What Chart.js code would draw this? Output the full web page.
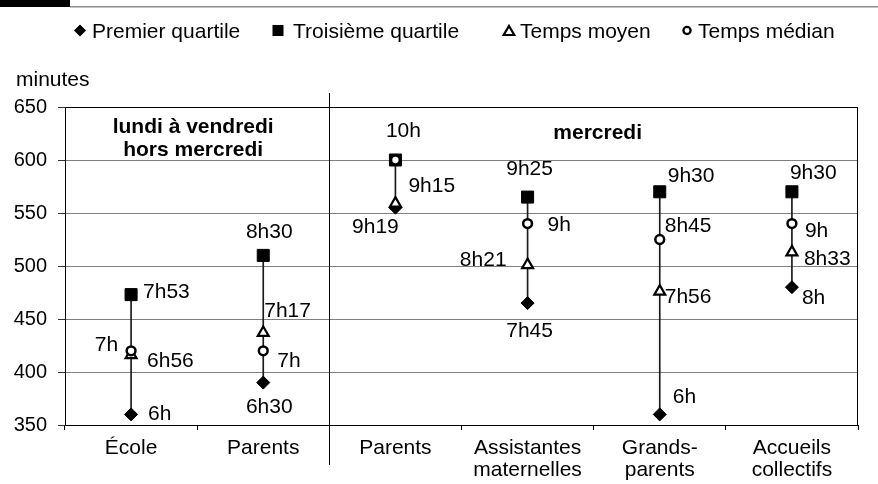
<!DOCTYPE html>
<html><head><meta charset="utf-8">
<script src="https://cdn.jsdelivr.net/npm/chart.js@4/dist/chart.umd.min.js"></script>
<style>html,body{margin:0;padding:0;background:#fff}#wrap{width:878px;height:484px;position:relative}</style>
</head><body><div id="wrap"><canvas id="c"></canvas></div>
<script>
// ---- data (minutes) ----
const categories = [['École'], ['Parents'], ['Parents'], ['Assistantes', 'maternelles'], ['Grands-', 'parents'], ['Accueils', 'collectifs']];
const premierQuartile   = [360, 390, 555, 465, 360, 480];
const troisiemeQuartile = [473, 510, 600, 565, 570, 570];
const tempsMoyen        = [416, 437, 559, 501, 476, 513];
const tempsMedian       = [420, 420, 600, 540, 525, 540];
const yTickValues = [350, 400, 450, 500, 550, 600, 650];
const seriesNames = ['Premier quartile', 'Troisième quartile', 'Temps moyen', 'Temps médian'];
const periodLabels = [['lundi à vendredi', 'hors mercredi'], ['mercredi']];
const yAxisTitle = 'minutes';

// ---- label placement (offsets from marker, pixels) ----
const labelLayout = {
  q1:     [[17, -2, 'left'], [6, 23, 'center'], [13, -23, 'left'], [2, 26, 'center'], [13, -19, 'left'], [10, 9, 'left']],
  q3:     [[12, -4, 'left'], [6, -25, 'center'], [8, -31, 'center'], [2, -30, 'center'], [8, -17, 'left'], [-2, -20, 'left']],
  mean:   [[16, 4.5, 'left'], [1, -23, 'left'], [-20, 22, 'center'], [-21, -6.5, 'right'], [5, 4, 'left'], [12, 5, 'left']],
  median: [[-13, -7, 'right'], [14, 9, 'left'], null, [20, 0, 'left'], [5, -15, 'left'], [13, 6, 'left']]
};

const FONT = '"Liberation Sans", Arial, sans-serif';
const fmt = m => { const h = Math.floor(m / 60), mm = m % 60; return h + 'h' + (mm ? String(mm).padStart(2, '0') : ''); };

const deco = {
  id: 'deco',
  beforeDraw(chart) {
    const ctx = chart.ctx;
    ctx.save();
    ctx.fillStyle = '#fff'; ctx.fillRect(0, 0, chart.width, chart.height);
    ctx.fillStyle = '#000'; ctx.fillRect(0, 0, 70, 7);
    ctx.fillStyle = '#8c8c8c'; ctx.fillRect(70, 6, chart.width - 70, 1.5);
    // legend
    ctx.fillStyle = '#000'; ctx.strokeStyle = '#000';
    ctx.font = '21px ' + FONT; ctx.textAlign = 'left'; ctx.textBaseline = 'alphabetic';
    const ly = 30.5, lb = 38;
    // diamond
    ctx.beginPath(); ctx.moveTo(80, ly - 6); ctx.lineTo(86, ly); ctx.lineTo(80, ly + 6); ctx.lineTo(74, ly); ctx.closePath(); ctx.fill();
    ctx.fillText(seriesNames[0], 92, lb);
    // square
    ctx.fillRect(272.5, ly - 5.5, 11, 11);
    ctx.fillText(seriesNames[1], 293, lb);
    // triangle
    ctx.lineWidth = 2.2;
    ctx.beginPath(); ctx.moveTo(509, ly - 4.5); ctx.lineTo(514.3, ly + 4.5); ctx.lineTo(503.7, ly + 4.5); ctx.closePath(); ctx.stroke();
    ctx.fillText(seriesNames[2], 520, lb);
    // circle
    ctx.lineWidth = 2.3;
    ctx.beginPath(); ctx.arc(687, ly, 3.6, 0, Math.PI * 2); ctx.stroke();
    ctx.fillText(seriesNames[3], 698, lb);
    // axis title
    ctx.fillText(yAxisTitle, 16, 86);
    ctx.restore();
  },
  afterDatasetsDraw(chart) {
    const { ctx, chartArea: a, scales: { x, y } } = chart;
    ctx.save();
    ctx.strokeStyle = '#000'; ctx.lineWidth = 1;
    const rx = Math.round(a.right) - 0.5;
    ctx.beginPath(); ctx.moveTo(rx, a.top); ctx.lineTo(rx, a.bottom); ctx.stroke();
    const sx = Math.round((x.getPixelForValue(1) + x.getPixelForValue(2)) / 2) + 0.5;
    ctx.beginPath(); ctx.moveTo(sx, a.top - 14); ctx.lineTo(sx, a.bottom + 40); ctx.stroke();

    ctx.fillStyle = '#000';
    ctx.font = '21px ' + FONT; ctx.textBaseline = 'alphabetic';
    const series = [[premierQuartile, 'q1'], [troisiemeQuartile, 'q3'], [tempsMoyen, 'mean'], [tempsMedian, 'median']];
    series.forEach(([vals, key]) => vals.forEach((v, i) => {
      const L = labelLayout[key][i];
      if (!L) return;
      ctx.textAlign = L[2];
      ctx.fillText(fmt(v), x.getPixelForValue(i) + L[0], y.getPixelForValue(v) + L[1] + 7.5);
    }));

    ctx.font = 'bold 21px ' + FONT; ctx.textAlign = 'center';
    const c1 = (x.getPixelForValue(0) + x.getPixelForValue(1)) / 2 - 4;
    ctx.fillText(periodLabels[0][0], c1, a.top + 26);
    ctx.fillText(periodLabels[0][1], c1, a.top + 49);
    const c2 = (x.getPixelForValue(2) + x.getPixelForValue(5)) / 2 + 4;
    ctx.fillText(periodLabels[1][0], c2, a.top + 32);
    ctx.restore();
  }
};

new Chart(document.getElementById('c'), {
  type: 'bar',
  data: {
    labels: categories,
    datasets: [
      { type: 'bar', label: 'range', data: premierQuartile.map((v, i) => [v, troisiemeQuartile[i]]),
        backgroundColor: '#1a1a1a', borderWidth: 0, barThickness: 1, order: 5 },
      { type: 'line', label: seriesNames[0], data: premierQuartile, showLine: false,
        pointStyle: 'rectRot', pointRadius: 6.5, pointBackgroundColor: '#000', pointBorderColor: '#000', pointBorderWidth: 1, order: 4 },
      { type: 'line', label: seriesNames[1], data: troisiemeQuartile, showLine: false,
        pointStyle: 'rect', pointRadius: 8.5, pointBackgroundColor: '#000', pointBorderColor: '#000', pointBorderWidth: 1, order: 3 },
      { type: 'line', label: seriesNames[2], data: tempsMoyen, showLine: false,
        pointStyle: 'triangle', pointRadius: 6.3, pointBackgroundColor: '#fff', pointBorderColor: '#000', pointBorderWidth: 2.2, order: 2 },
      { type: 'line', label: seriesNames[3], data: tempsMedian, showLine: false,
        pointStyle: 'circle', pointRadius: 4.4, pointBackgroundColor: '#fff', pointBorderColor: '#000', pointBorderWidth: 2.5, order: 1 }
    ]
  },
  options: {
    responsive: true, maintainAspectRatio: false, animation: false, events: [],
    layout: { padding: { top: 107, right: 20, left: 0, bottom: 0 } },
    plugins: { legend: { display: false }, tooltip: { enabled: false } },
    scales: {
      x: {
        offset: true,
        afterFit: s => { s.height = 59; },
        grid: { display: true, drawOnChartArea: false, drawTicks: true, tickLength: 5, offset: true, color: '#000' },
        border: { display: true, color: '#000', width: 1 },
        ticks: { color: '#000', font: { family: FONT, size: 21, lineHeight: 1.05 }, padding: 7, maxRotation: 0, autoSkip: false }
      },
      y: {
        min: 350, max: 650,
        afterFit: s => { s.width = 65; },
        afterBuildTicks: s => { s.ticks = yTickValues.map(v => ({ value: v })); },
        grid: { color: c => (c.tick && c.tick.value === 650 ? '#000' : '#7f7f7f'), tickColor: '#333', tickLength: 7, lineWidth: 1 },
        border: { display: true, color: '#000', width: 1 },
        ticks: { color: '#000', font: { family: FONT, size: 20 }, padding: 11 }
      }
    }
  },
  plugins: [deco]
});
</script>
</body></html>
